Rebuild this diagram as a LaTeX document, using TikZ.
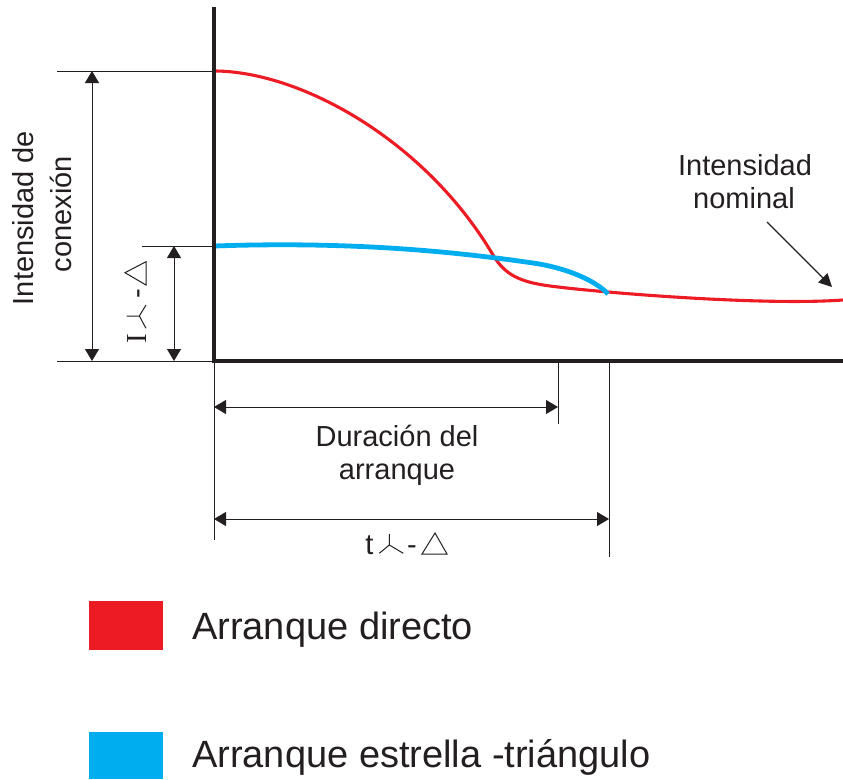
\documentclass[tikz,border=0pt]{standalone}
\usepackage{fontspec}
\setmainfont{Liberation Sans}
\newfontfamily\serifI{Liberation Serif}
\usetikzlibrary{arrows.meta}
\definecolor{cred}{HTML}{ED1C24}
\definecolor{cblue}{HTML}{00AEEF}
\definecolor{ink}{HTML}{231F20}
\begin{document}
\begin{tikzpicture}[x=1pt,y=-1pt,
  lbl/.style={font=\fontsize{29}{33}\selectfont, text=ink, inner sep=0pt, anchor=base},
  leg/.style={font=\fontsize{38}{44}\selectfont, text=ink, inner sep=0pt, anchor=base west},
  dim/.style={draw=ink, line width=0.9pt, {Triangle[length=12pt,width=14pt]}-{Triangle[length=12pt,width=14pt]}},
  ext/.style={draw=ink, line width=0.8pt},
  axisline/.style={draw=ink, line width=3.8pt, line join=miter},
  sym/.style={draw=ink, line width=1pt, line join=miter},
  redcurve/.style={draw=cred, line width=3.1pt},
  bluecurve/.style={draw=cblue, line width=4.8pt}]
\useasboundingbox (0,0) rectangle (843,779);

% coordinates
\coordinate (top) at (214,7);
\coordinate (O) at (214,361);
\coordinate (xend) at (843,361);
\coordinate (eTopL) at (57,71);   \coordinate (eTopR) at (214,71);
\coordinate (eMidL) at (142,246); \coordinate (eMidR) at (214,246);
\coordinate (eBotL) at (57,361);
\coordinate (eO) at (214,540);
\coordinate (e1a) at (558,361); \coordinate (e1b) at (558,424);
\coordinate (e2a) at (609,361); \coordinate (e2b) at (609,557);
\coordinate (a1t) at (92,71);   \coordinate (a1b) at (92,361);
\coordinate (a2t) at (174,246); \coordinate (a2b) at (174,361);
\coordinate (h1l) at (214,407); \coordinate (h1r) at (558,407);
\coordinate (h2l) at (214,519); \coordinate (h2r) at (609,519);
\coordinate (nA) at (767,222);  \coordinate (nB) at (832,287);

% extension lines
\draw[ext] (eTopL) -- (eTopR);
\draw[ext] (eMidL) -- (eMidR);
\draw[ext] (eBotL) -- (O);
\draw[ext] (O) -- (eO);
\draw[ext] (e1a) -- (e1b);
\draw[ext] (e2a) -- (e2b);

% curves
\draw[redcurve] (214,71) .. controls (300,71) and (425,140) .. (493,255)
  .. controls (505,275) and (520,282) .. (550,286)
  .. controls (595,292) and (760,306) .. (843,300);
\draw[bluecurve] (214,246) .. controls (330,242) and (430,248) .. (533,263)
  .. controls (570,268.5) and (597,282) .. (608,294);

% axes
\draw[axisline] (top) -- (O) -- (xend);

% dimension arrows
\draw[dim] (a1t) -- (a1b);
\draw[dim] (a2t) -- (a2b);
\draw[dim] (h1l) -- (h1r);
\draw[dim] (h2l) -- (h2r);
\draw[draw=ink, line width=1.2pt, -{Triangle[length=13pt,width=13pt]}] (nA) -- (nB);

% labels
\node[lbl] (nom1) at (745,175) {Intensidad};
\node[lbl] (nom2) at (744,208) {nominal};
\node[lbl] (dur1) at (397,446) {Duración del};
\node[lbl] (dur2) at (397,479) {arranque};
\node[lbl, rotate=90] (con1) at (33,218) {Intensidad de};
\node[lbl, rotate=90] (con2) at (71,214) {conexión};

% t Y - triangle
\node[lbl] (tlet) at (369.5,554) {t};
\draw[sym] (389.3,534) -- (389.3,545) -- (379.3,553.3) (389.3,545) -- (403.3,553.3);
\node[lbl] (thy) at (412,554) {-};
\draw[sym] (435,533) -- (422,554) -- (447,554) -- cycle;

% I Y - triangle (rotated)
\node[lbl, rotate=90, font=\serifI\fontsize{29}{33}\selectfont] (ilet) at (146,339) {I};
\draw[sym] (126.7,316) -- (139.3,316) -- (146,305) (139.3,316) -- (146,328.3);
\node[lbl, rotate=90] (ihy) at (146,294) {-};
\draw[sym] (125,272.7) -- (146,261.7) -- (146,285) -- cycle;

% legend
\fill[cred] (89,601) rectangle (163,650);
\fill[cblue] (89,732) rectangle (163,779);
\node[leg] (leg1) at (192,639) {Arranque directo};
\node[leg] (leg2) at (192,767) {Arranque estrella -triángulo};
\end{tikzpicture}
\end{document}
